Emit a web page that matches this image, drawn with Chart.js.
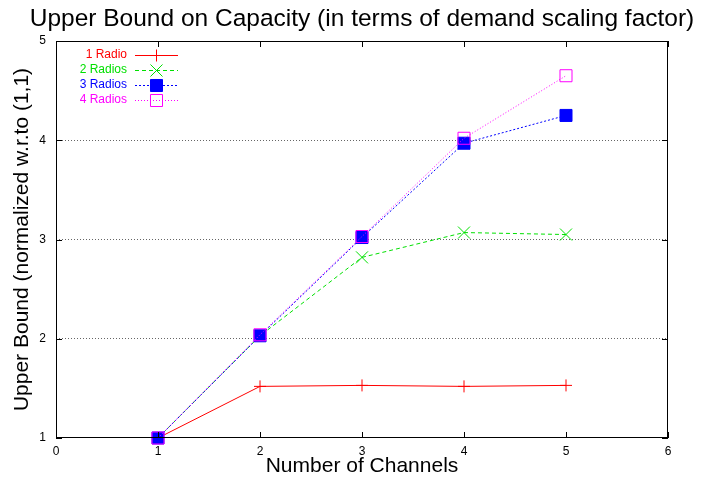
<!DOCTYPE html>
<html>
<head>
<meta charset="utf-8">
<script src="https://cdn.jsdelivr.net/npm/chart.js@4"></script>
<style>
  html, body { margin: 0; padding: 0; background: #fff; }
  #wrap { width: 712px; height: 480px; }
</style>
</head>
<body>
<div id="wrap"><canvas id="chart"></canvas></div>
<script>
'use strict';

// data
let channels = [1, 2, 3, 4, 5];
let radio1 = [1, 1.52, 1.53, 1.52, 1.53];
let radio2 = [1, 2.03, 2.82, 3.07, 3.05];
let radio3 = [1, 2.03, 3.02, 3.97, 4.25];
let radio4 = [1, 2.04, 3.03, 4.02, 4.65];
let seriesNames = ['1 Radio', '2 Radios', '3 Radios', '4 Radios'];
let xTicks = [0, 1, 2, 3, 4, 5, 6];
let yTicks = [1, 2, 3, 4, 5];
let chartTitle = 'Upper Bound on Capacity (in terms of demand scaling factor)';

let canvasElem = document.getElementById('chart');
let fontFam = '"Liberation Sans", Arial, sans-serif';

function toPoints(values) {
  return channels.map((c, i) => ({ x: c, y: values[i] }));
}

// gnuplot style frame, inward ticks, title and key
let frameKey = {
  id: 'frameKey',
  afterDatasetsDraw(chart) {
    let ctx = chart.ctx;
    let a = chart.chartArea;
    let xs = chart.scales.x;
    let ys = chart.scales.y;
    ctx.save();
    ctx.strokeStyle = '#000';
    ctx.lineWidth = 1;
    ctx.setLineDash([]);
    ctx.strokeRect(a.left + 0.5, a.top + 0.5, a.right - a.left - 1, a.bottom - a.top - 1);
    ctx.beginPath();
    for (let t of xTicks) {
      let px = Math.round(xs.getPixelForValue(t)) + 0.5;
      ctx.moveTo(px, a.bottom); ctx.lineTo(px, a.bottom - 6);
      ctx.moveTo(px, a.top); ctx.lineTo(px, a.top + 6);
    }
    for (let t of yTicks) {
      let py = Math.round(ys.getPixelForValue(t)) + 0.5;
      ctx.moveTo(a.left, py); ctx.lineTo(a.left + 6, py);
      ctx.moveTo(a.right, py); ctx.lineTo(a.right - 6, py);
    }
    ctx.stroke();

    // title, centred over the plot box
    ctx.fillStyle = '#000';
    ctx.font = '24.5px ' + fontFam;
    ctx.textAlign = 'center';
    ctx.textBaseline = 'alphabetic';
    ctx.fillText(chartTitle, (a.left + a.right) / 2, a.top - 15);

    // key
    ctx.font = '12px ' + fontFam;
    ctx.textAlign = 'right';
    ctx.textBaseline = 'middle';
    chart.data.datasets.forEach((ds, i) => {
      let y = a.top + 14 + i * 15;
      ctx.fillStyle = ds.borderColor;
      ctx.fillText(ds.label, a.left + 71, y);
      ctx.strokeStyle = ds.borderColor;
      ctx.lineWidth = 1;
      ctx.setLineDash(ds.borderDash || []);
      ctx.beginPath();
      ctx.moveTo(a.left + 79, y + 0.5);
      ctx.lineTo(a.left + 122, y + 0.5);
      ctx.stroke();
      ctx.setLineDash([]);
      ctx.fillStyle = ds.pointBackgroundColor;
      ctx.strokeStyle = ds.borderColor;
      Chart.helpers.drawPoint(ctx, {
        pointStyle: ds.pointStyle,
        radius: ds.pointRadius,
        borderWidth: 1,
        rotation: 0
      }, a.left + 100.5, y + 0.5);
    });
    ctx.restore();
  }
};

let chartObj = {
  type: 'line',
  data: {
    datasets: [{
      label: seriesNames[0],
      data: toPoints(radio1),
      borderColor: '#ff0000',
      pointBackgroundColor: 'rgba(0,0,0,0)',
      pointBorderColor: '#ff0000',
      pointStyle: 'cross',
      pointRadius: 6,
      order: 3
    }, {
      label: seriesNames[1],
      data: toPoints(radio2),
      borderColor: '#00e000',
      borderDash: [4, 3],
      pointBackgroundColor: 'rgba(0,0,0,0)',
      pointBorderColor: '#00e000',
      pointStyle: 'crossRot',
      pointRadius: 8.5,
      order: 2
    }, {
      label: seriesNames[2],
      data: toPoints(radio3),
      borderColor: '#0000ff',
      borderDash: [2, 2],
      pointBackgroundColor: '#0000ff',
      pointBorderColor: '#0000ff',
      pointStyle: 'rect',
      pointRadius: 8.5,
      order: 1
    }, {
      label: seriesNames[3],
      data: toPoints(radio4),
      borderColor: '#ff00ff',
      borderDash: [1, 2],
      pointBackgroundColor: 'rgba(0,0,0,0)',
      pointBorderColor: '#ff00ff',
      pointStyle: 'rect',
      pointRadius: 8.5,
      order: 0
    }]
  },
  options: {
    responsive: true,
    maintainAspectRatio: false,
    animation: false,
    layout: { padding: { left: 0, right: 44, top: 41, bottom: 0 } },
    elements: {
      line: { borderWidth: 1, tension: 0, fill: false },
      point: { borderWidth: 1, hoverRadius: 8 }
    },
    datasets: { line: { clip: false } },
    scales: {
      x: {
        type: 'linear',
        min: 0,
        max: 6,
        afterFit: (s) => { s.height = 42; },
        afterBuildTicks: (s) => { s.ticks = xTicks.map(v => ({ value: v })); },
        grid: { display: false, drawTicks: false },
        border: { display: false },
        ticks: {
          color: '#000',
          padding: 6,
          maxRotation: 0,
          font: { family: fontFam, size: 12 }
        },
        title: {
          display: true,
          text: 'Number of Channels',
          color: '#000',
          padding: { top: 0, bottom: 1 },
          font: { family: fontFam, size: 21 }
        }
      },
      y: {
        type: 'linear',
        min: 1,
        max: 5,
        afterFit: (s) => { s.width = 56; },
        afterBuildTicks: (s) => { s.ticks = yTicks.map(v => ({ value: v })); },
        grid: {
          drawTicks: false,
          color: (c) => (c.tick.value === 1 || c.tick.value === 5) ? 'rgba(0,0,0,0)' : '#666',
          lineWidth: 1
        },
        border: { display: false, dash: [1, 2] },
        ticks: {
          color: '#000',
          padding: 10,
          font: { family: fontFam, size: 12 }
        },
        title: {
          display: true,
          text: 'Upper Bound (normalized w.r.to (1,1)',
          color: '#000',
          padding: { top: 10, bottom: 0 },
          font: { family: fontFam, size: 21 }
        }
      }
    },
    plugins: {
      legend: { display: false },
      tooltip: { enabled: false },
      title: { display: false }
    }
  },
  plugins: [frameKey]
};

new Chart(canvasElem, chartObj);
</script>
</body>
</html>
